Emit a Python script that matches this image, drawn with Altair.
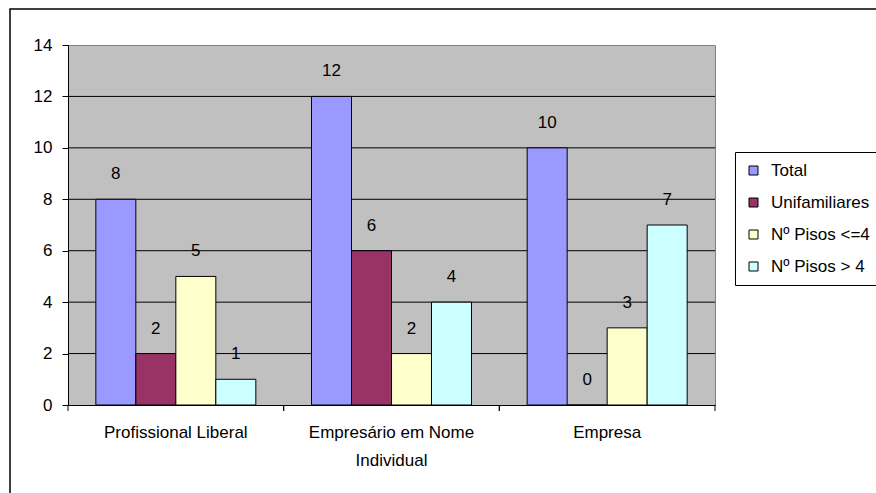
import altair as alt
import pandas as pd

# Categories, series and values
categorias = ["Profissional Liberal", "Empresário em Nome Individual", "Empresa"]
series = ["Total", "Unifamiliares", "Nº Pisos <=4", "Nº Pisos > 4"]
total = [8, 12, 10]
unifamiliares = [2, 6, 0]
pisos_ate_4 = [5, 2, 3]
pisos_mais_4 = [1, 4, 7]
cores = ["#9999FF", "#993366", "#FFFFCC", "#CCFFFF"]
y_ticks = [0, 2, 4, 6, 8, 10, 12, 14]
grelha = [2, 4, 6, 8, 10, 12]

rows = []
for serie, valores in zip(series, [total, unifamiliares, pisos_ate_4, pisos_mais_4]):
    for cat, v in zip(categorias, valores):
        rows.append({"categoria": cat, "serie": serie, "valor": v})
df = pd.DataFrame(rows)

W, H = 647, 360
FONT = "Liberation Sans"
FS = 17

y_scale = alt.Scale(domain=[0, 14], nice=False, zero=True)
y_axis = alt.Axis(
    values=y_ticks,
    title=None,
    grid=False,
    tickSize=6,
    tickColor="black",
    domainColor="black",
    labelPadding=10,
    labelFont=FONT,
    labelFontSize=FS,
    labelColor="black",
)
x_sort = categorias

x_enc = alt.X(
    "categoria:N",
    sort=x_sort,
    scale=alt.Scale(paddingInner=0, paddingOuter=0),
    axis=alt.Axis(
        title=None,
        labelAngle=0,
        ticks=False,
        domain=True,
        domainColor="black",
        domainWidth=1,
        labelPadding=19,
        labelBaseline="top",
        labelLineHeight=28,
        labelFont=FONT,
        labelFontSize=FS,
        labelColor="black",
        labelExpr="datum.label == 'Empresário em Nome Individual' ? ['Empresário em Nome', 'Individual'] : datum.label",
    ),
)
xoff_enc = alt.XOffset(
    "serie:N", sort=series, scale=alt.Scale(paddingInner=0, paddingOuter=0.696)
)

# Horizontal gridlines
grid = (
    alt.Chart(pd.DataFrame({"valor": grelha}))
    .mark_rule(color="black", strokeWidth=1)
    .encode(y=alt.Y("valor:Q", scale=y_scale, axis=y_axis))
)

bars = (
    alt.Chart(df)
    .mark_bar(stroke="black", strokeWidth=1, opacity=1)
    .encode(
        x=x_enc,
        xOffset=xoff_enc,
        y=alt.Y("valor:Q", scale=y_scale, axis=y_axis),
        color=alt.Color(
            "serie:N",
            sort=series,
            scale=alt.Scale(domain=series, range=cores),
            legend=alt.Legend(
                title=None,
                orient="none",
                legendX=667,
                legendY=107,
                strokeColor="black",
                fillColor="white",
                padding=10,
                symbolType="square",
                symbolSize=81,
                symbolStrokeColor="black",
                symbolStrokeWidth=1,
                symbolOpacity=1,
                labelFont=FONT,
                labelFontSize=FS,
                labelColor="black",
                labelOffset=9,
                rowPadding=14,
                labelLimit=300,
            ),
        ),
    )
)

labels = (
    alt.Chart(df)
    .mark_text(baseline="middle", dy=-25, font=FONT, fontSize=FS, color="black")
    .encode(x=x_enc, xOffset=xoff_enc, y=alt.Y("valor:Q", scale=y_scale, axis=y_axis), text="valor:Q")
)

# Category boundary ticks below the axis
ticks_left = (
    alt.Chart(pd.DataFrame({"categoria": categorias}))
    .mark_rule(color="black", strokeWidth=1)
    .encode(
        x=alt.X("categoria:N", sort=x_sort, bandPosition=0),
        y=alt.value(H),
        y2=alt.value(H + 6),
    )
)
ticks_right = (
    alt.Chart(pd.DataFrame({"categoria": categorias}))
    .mark_rule(color="black", strokeWidth=1)
    .encode(
        x=alt.X("categoria:N", sort=x_sort, bandPosition=1),
        y=alt.value(H),
        y2=alt.value(H + 6),
    )
)

# Chart frame
frame = (
    alt.Chart(pd.DataFrame({"a": [0]}))
    .mark_rect(fill=None, stroke="black", strokeWidth=1.5)
    .encode(
        x=alt.value(-58), x2=alt.value(W + 300), y=alt.value(-36), y2=alt.value(H + 300)
    )
)

chart = (
    alt.layer(frame, grid, bars, labels, ticks_left, ticks_right)
    .properties(
        width=W,
        height=H,
        padding={"left": 68, "top": 45, "right": 161, "bottom": 88},
        autosize=alt.AutoSizeParams(type="none"),
        background="white",
    )
    .configure_view(fill="#C0C0C0", stroke="#808080", strokeWidth=1)
)

chart.save("out.html", embed_options={"renderer": "svg", "actions": False})
